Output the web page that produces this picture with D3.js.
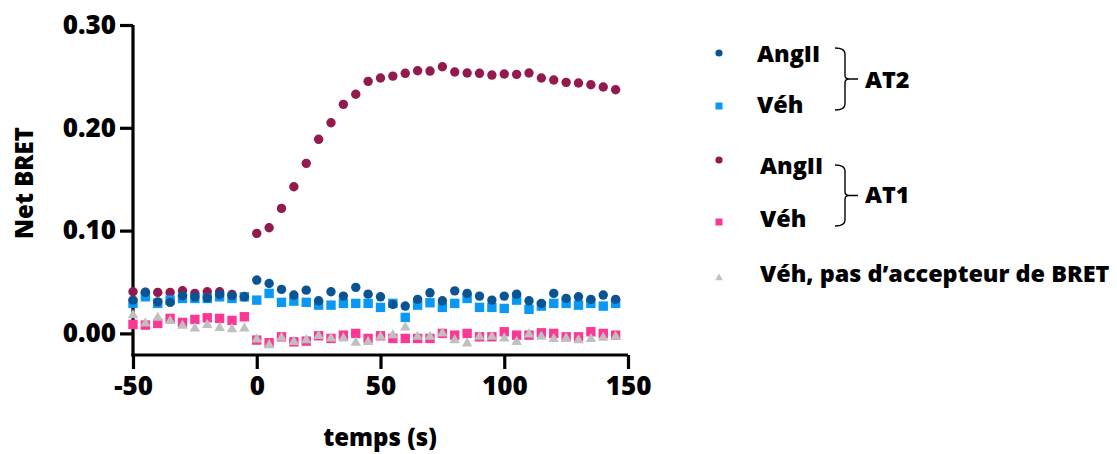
<!DOCTYPE html>
<html>
<head>
<meta charset="utf-8">
<script src="https://cdn.jsdelivr.net/npm/d3@7"></script>
<style>
  html, body { margin: 0; padding: 0; background: #fff; }
  svg { display: block; }
  text { font-family: "Open Sans", Lato, sans-serif; font-weight: 800; fill: #000; }
</style>
</head>
<body>
<svg id="chart" width="1117" height="454"></svg>
<script>
// ---- data ----
const times = [-50,-45,-40,-35,-30,-25,-20,-15,-10,-5,0,5,10,15,20,25,30,35,40,45,50,55,60,65,70,75,80,85,90,95,100,105,110,115,120,125,130,135,140,145];

const at2AngII = [0.0324,0.0399,0.0307,0.0302,0.0366,0.0356,0.0346,0.0379,0.0366,0.0356,
  0.0519,0.0486,0.0428,0.0373,0.0421,0.0317,0.0405,0.0363,0.0448,0.0382,
  0.0356,0.0282,0.0266,0.0331,0.0395,0.0317,0.0414,0.0389,0.0363,0.0324,
  0.0363,0.0382,0.0317,0.0292,0.0389,0.0341,0.0356,0.0331,0.0373,0.0331];

const at2Veh = [0.0292,0.0356,0.0292,0.0324,0.0340,0.0340,0.0340,0.0356,0.0340,0.0356,
  0.0324,0.0389,0.0302,0.0314,0.0302,0.0275,0.0275,0.0292,0.0292,0.0292,
  0.0253,0.0292,0.0156,0.0275,0.0298,0.0253,0.0292,0.0340,0.0253,0.0253,
  0.0243,0.0324,0.0234,0.0266,0.0292,0.0292,0.0275,0.0292,0.0266,0.0292];

const at1AngII = [0.0405,0.0400,0.0399,0.0399,0.0415,0.0389,0.0405,0.0405,0.0380,0.0360,
  0.0973,0.1028,0.1216,0.1427,0.1654,0.1888,0.2049,0.2228,0.2326,0.2452,
  0.2484,0.2503,0.2530,0.2555,0.2552,0.2594,0.2543,0.2533,0.2530,0.2513,
  0.2523,0.2520,0.2533,0.2484,0.2465,0.2442,0.2436,0.2419,0.2397,0.2370];

const at1Veh = [0.0088,0.0081,0.0097,0.0146,0.0107,0.0136,0.0152,0.0146,0.0126,0.0162,
  -0.0065,-0.0090,-0.0033,-0.0082,-0.0075,-0.0023,-0.0049,-0.0017,0.0000,-0.0049,
  -0.0023,-0.0049,-0.0049,-0.0049,-0.0049,0.0000,-0.0017,0.0000,-0.0033,-0.0033,
  0.0016,-0.0017,-0.0017,0.0006,0.0000,-0.0033,-0.0033,0.0016,0.0000,-0.0017];

const noAcceptor = [0.0178,0.0097,0.0152,0.0120,0.0074,0.0049,0.0081,0.0054,0.0042,0.0049,
  -0.0058,-0.0114,-0.0043,-0.0082,-0.0065,-0.0026,-0.0049,-0.0049,-0.0091,-0.0082,
  -0.0033,-0.0017,0.0058,-0.0033,-0.0033,0.0000,-0.0065,-0.0097,-0.0033,-0.0033,
  -0.0049,-0.0082,-0.0010,-0.0033,-0.0055,-0.0049,-0.0065,-0.0055,-0.0043,-0.0033];

const xTickValues = [-50, 0, 50, 100, 150];
const xTickLabels = ["-50", "0", "50", "100", "150"];
const yTickValues = [0.00, 0.10, 0.20, 0.30];
const yTickLabels = ["0.00", "0.10", "0.20", "0.30"];
const xTitle = "temps (s)";
const yTitle = "Net BRET";
const legendLabels = ["AngII", "Véh", "AngII", "Véh", "Véh, pas d’accepteur de BRET"];
const groupLabels = ["AT2", "AT1"];

// ---- styles ----
const C = {
  at2AngII: "#0a5493",
  at2Veh: "#0a98f6",
  at1AngII: "#921a4e",
  at1Veh: "#fb3896",
  none: "#c0c0c0"
};

const svg = d3.select("#chart");
const x = d3.scaleLinear().domain([-50, 150]).range([133, 628]);
const y = d3.scaleLinear().domain([-0.021, 0.30]).range([355, 25]);

const FS = 23.4;

// axes
const yAxis = svg.append("g").attr("transform", "translate(133,0)")
  .call(d3.axisLeft(y).tickValues(yTickValues).tickFormat((d, i) => yTickLabels[i]).tickSize(13).tickSizeOuter(0).tickPadding(4));
const xAxis = svg.append("g").attr("transform", "translate(0,355)")
  .call(d3.axisBottom(x).tickValues(xTickValues).tickFormat((d, i) => xTickLabels[i]).tickSize(14).tickSizeOuter(0).tickPadding(8));

[yAxis, xAxis].forEach(g => {
  g.select(".domain").attr("stroke", "#000").attr("stroke-width", 3.2);
  g.selectAll(".tick line").attr("stroke", "#000").attr("stroke-width", 3.2);
  g.selectAll(".tick text").style("font-family", "'Open Sans', Lato, sans-serif")
    .style("font-weight", 800).style("font-size", "26px").attr("fill", "#000");
});
yAxis.select(".domain").attr("d", `M0,${y.range()[1]}V${y.range()[0] + 1.6}`);
xAxis.select(".domain").attr("d", `M${x.range()[0] - 1.6},0H${x.range()[1]}`);

svg.append("text").attr("x", 380).attr("y", 446).attr("text-anchor", "middle")
  .style("font-size", "24px").text(xTitle);
svg.append("text").attr("transform", "translate(33,183) rotate(-90)").attr("text-anchor", "middle")
  .style("font-size", "24px").text(yTitle);

// marks
const plot = svg.append("g");
const circleSym = d3.symbol().type(d3.symbolCircle).size(Math.PI * 4.7 * 4.7);
const squareSym = d3.symbol().type(d3.symbolSquare).size(9.4 * 9.4);
const triSym = d3.symbol().type(d3.symbolTriangle).size(48);

function drawSeries(vals, sym, color) {
  plot.append("g").selectAll("path").data(vals).join("path")
    .attr("transform", (d, i) => `translate(${x(times[i])},${y(d)})`)
    .attr("d", sym).attr("fill", color);
}
drawSeries(at1Veh, squareSym, C.at1Veh);
drawSeries(at1AngII, circleSym, C.at1AngII);
drawSeries(at2Veh, squareSym, C.at2Veh);
drawSeries(at2AngII, circleSym, C.at2AngII);
drawSeries(noAcceptor, triSym, C.none);

// legend
const leg = svg.append("g");
const legCircle = d3.symbol().type(d3.symbolCircle).size(Math.PI * 3.6 * 3.6);
const legSquare = d3.symbol().type(d3.symbolSquare).size(7 * 7);
const legTri = d3.symbol().type(d3.symbolTriangle).size(26);
const legendItems = [
  { sym: legCircle, color: C.at2AngII, my: 53, tx: 757, ty: 62, label: legendLabels[0] },
  { sym: legSquare, color: C.at2Veh, my: 106, tx: 757, ty: 113, label: legendLabels[1] },
  { sym: legCircle, color: C.at1AngII, my: 160, tx: 760, ty: 174, label: legendLabels[2] },
  { sym: legSquare, color: C.at1Veh, my: 222, tx: 760, ty: 227, label: legendLabels[3] },
  { sym: legTri, color: C.none, my: 278, tx: 760, ty: 282, label: legendLabels[4] }
];
legendItems.forEach(it => {
  leg.append("path").attr("d", it.sym).attr("fill", it.color)
    .attr("transform", `translate(719,${it.my})`);
  leg.append("text").attr("x", it.tx).attr("y", it.ty).style("font-size", FS + "px").text(it.label);
});

function brace(top, bottom, xl, xm, xt) {
  const mid = (top + bottom) / 2;
  return `M${xl},${top} Q${xm},${top} ${xm},${top + 6} L${xm},${mid - 4} Q${xm},${mid} ${xm + 4},${mid} L${xt},${mid}` +
         `M${xm + 4},${mid} Q${xm},${mid} ${xm},${mid + 4} L${xm},${bottom - 6} Q${xm},${bottom} ${xl},${bottom}`;
}
leg.append("path").attr("d", brace(48, 110, 835, 845, 858)).attr("fill", "none").attr("stroke", "#000").attr("stroke-width", 1.4);
leg.append("path").attr("d", brace(165, 226, 835, 845, 858)).attr("fill", "none").attr("stroke", "#000").attr("stroke-width", 1.4);
leg.append("text").attr("x", 865).attr("y", 88).style("font-size", FS + "px").text(groupLabels[0]);
leg.append("text").attr("x", 865).attr("y", 203).style("font-size", FS + "px").text(groupLabels[1]);
</script>
</body>
</html>
